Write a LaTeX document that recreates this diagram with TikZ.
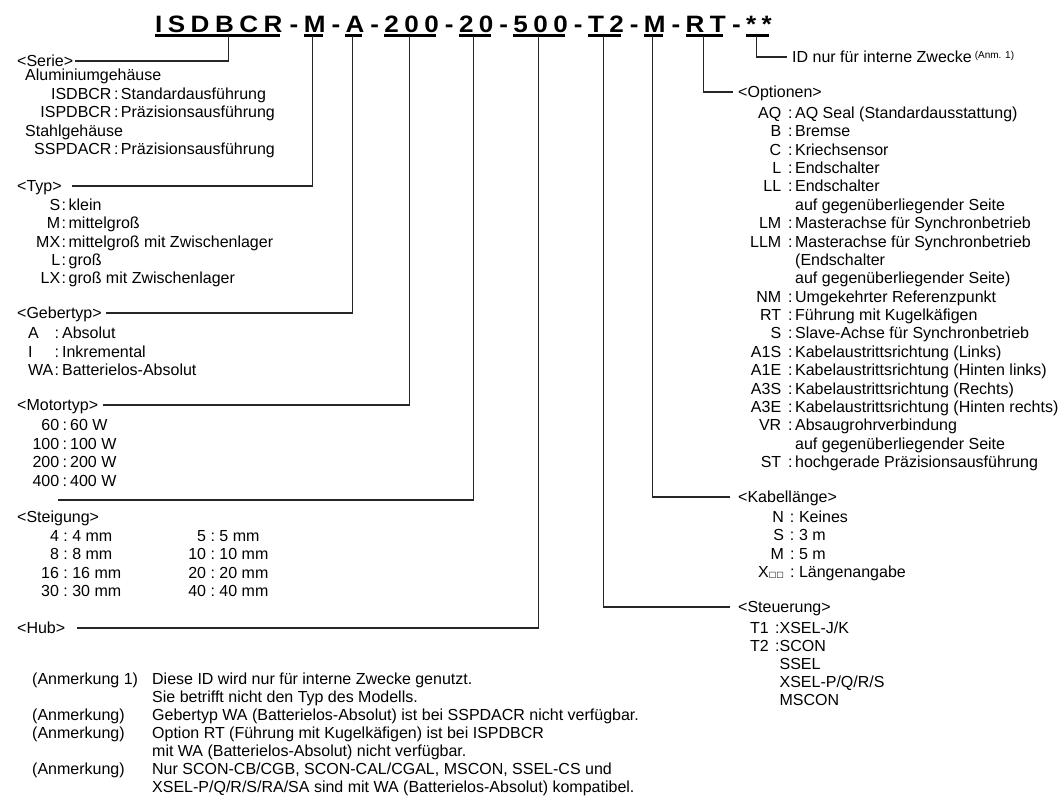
\documentclass[tikz,border=0pt]{standalone}
\usepackage{fontspec}
\usepackage{array}
\setmainfont{Liberation Sans}
\newfontfamily\titlefont[LetterSpace=23,FakeStretch=1.1]{Liberation Sans}
\newfontfamily\symfont{DejaVu Sans}
\newcommand\txtsize{\fontsize{16}{18.4}\selectfont}
\tikzset{
  ttl/.style={font=\titlefont\bfseries\fontsize{23.7}{28}\selectfont, inner sep=0pt, anchor=base west, text depth=0pt},
  uline/.style={line width=2.7pt},
  conn/.style={line width=1.1pt, black!85},
  lbl/.style={font=\txtsize, inner sep=0pt, anchor=west, text height=13pt, text depth=2pt},
  lst/.style={font=\fontsize{16}{#1}\selectfont, inner sep=0pt, anchor=base west},
  lst/.default=18.4
}
\begin{document}
\begin{tikzpicture}[x=1pt,y=-1pt]
  \useasboundingbox (0,0) rectangle (1059,795);
  % model code
  \node[ttl] (fSer) at (155,32) {ISDBCR};
  \node[ttl] (fTyp) at (303.6,32) {M};
  \node[ttl] (fGeb) at (345.4,32) {A};
  \node[ttl] (fMot) at (384.2,32) {200};
  \node[ttl] (fStg) at (458.8,32) {20};
  \node[ttl] (fHub) at (513.2,32) {500};
  \node[ttl] (fStr) at (587.8,32) {T2};
  \node[ttl] (fKab) at (643.7,32) {M};
  \node[ttl] (fOpt) at (685.5,32) {RT};
  \node[ttl] (fId) at (745.9,32) {**};
  \foreach \n/\x in {1/289.5,2/331.3,3/370.1,4/444.7,5/499.1,6/573.7,7/629.6,8/671.4,9/731.8}
    \node[ttl] (d\n) at (\x,32) {-};
  \foreach \f in {fSer,fTyp,fGeb,fMot,fStg,fHub,fStr,fKab,fOpt,fId}
    \draw[uline] ([yshift=-3pt]\f.south west) -- ([yshift=-3pt,xshift=-3pt]\f.south east);

  % left side
  \node[lbl] (serie) at (17,61) {<Serie>};
  \node[lst=18.5] (serieL) at (25,80.5) {\begin{tabular}[t]{@{}p{9pt}@{}r@{\hspace{2.5pt}:\hspace{2.5pt}}l@{}}
    \multicolumn{3}{@{}l@{}}{Aluminiumgehäuse}\\
    & ISDBCR & Standardausführung\\
    & ISPDBCR & Präzisionsausführung\\
    \multicolumn{3}{@{}l@{}}{Stahlgehäuse}\\
    & SSPDACR & Präzisionsausführung
  \end{tabular}};

  \node[lbl] (typ) at (17,186) {<Typ>};
  \node[lst=18.3] (typL) at (36,210.5) {\begin{tabular}[t]{@{}r@{\hspace{1.5pt}:\hspace{2.5pt}}l@{}}
    S & klein\\
    M & mittelgroß\\
    MX & mittelgroß mit Zwischenlager\\
    L & groß\\
    LX & groß mit Zwischenlager
  \end{tabular}};

  \node[lbl] (geber) at (17,313) {<Gebertyp>};
  \node[lst=18.5] (geberL) at (28,338.5) {\begin{tabular}[t]{@{}p{26.5pt}@{}l@{}}
    A & :\hspace{3pt}Absolut\\
    I & :\hspace{3pt}Inkremental\\
    WA & :\hspace{3pt}Batterielos-Absolut
  \end{tabular}};

  \node[lbl] (motor) at (17,405) {<Motortyp>};
  \node[lst=18.6] (motorL) at (32.3,430.5) {\begin{tabular}[t]{@{}r@{\hspace{3.5pt}:\hspace{3pt}}l@{}}
    60 & 60 W\\
    100 & 100 W\\
    200 & 200 W\\
    400 & 400 W
  \end{tabular}};

  \coordinate (steigEnd) at (58,500);
  \node[lbl] (steig) at (17,517) {<Steigung>};
  \node[lst=18.3] (steigL) at (41,541.5) {\begin{tabular}[t]{@{}r@{\ :\ }p{116pt}@{}r@{\ :\ }l@{}}
    4 & 4 mm & 5 & 5 mm\\
    8 & 8 mm & 10 & 10 mm\\
    16 & 16 mm & 20 & 20 mm\\
    30 & 30 mm & 40 & 40 mm
  \end{tabular}};

  \node[lbl] (hub) at (17,628) {<Hub>};

  \node[lst=18] (notes) at (32,684) {\begin{tabular}[t]{@{}p{120pt}@{}l@{}}
    (Anmerkung 1) & Diese ID wird nur für interne Zwecke genutzt.\\
    & Sie betrifft nicht den Typ des Modells.\\
    (Anmerkung) & Gebertyp WA (Batterielos-Absolut) ist bei SSPDACR nicht verfügbar.\\
    (Anmerkung) & Option RT (Führung mit Kugelkäfigen) ist bei ISPDBCR\\
    & mit WA (Batterielos-Absolut) nicht verfügbar.\\
    (Anmerkung) & Nur SCON-CB/CGB, SCON-CAL/CGAL, MSCON, SSEL-CS und\\
    & XSEL-P/Q/R/S/RA/SA sind mit WA (Batterielos-Absolut) kompatibel.
  \end{tabular}};

  % right side
  \node[lbl] (idtxt) at (792,57) {ID nur für interne Zwecke\hspace{3pt}\raisebox{4.5pt}{\fontsize{10}{10}\selectfont (Anm. 1)}};

  \node[lbl] (opt) at (738,92) {<Optionen>};
  \node[lst=18.37] (optL) at (749.9,118.5) {\begin{tabular}[t]{@{}r@{\hspace{7pt}}l@{\hspace{2.5pt}}l@{}}
    AQ & : & AQ Seal (Standardausstattung)\\
    B & : & Bremse\\
    C & : & Kriechsensor\\
    L & : & Endschalter\\
    LL & : & Endschalter\\
    & & auf gegenüberliegender Seite\\
    LM & : & Masterachse für Synchronbetrieb\\
    LLM & : & Masterachse für Synchronbetrieb\\
    & & (Endschalter\\
    & & auf gegenüberliegender Seite)\\
    NM & : & Umgekehrter Referenzpunkt\\
    RT & : & Führung mit Kugelkäfigen\\
    S & : & Slave-Achse für Synchronbetrieb\\
    A1S & : & Kabelaustrittsrichtung (Links)\\
    A1E & : & Kabelaustrittsrichtung (Hinten links)\\
    A3S & : & Kabelaustrittsrichtung (Rechts)\\
    A3E & : & Kabelaustrittsrichtung (Hinten rechts)\\
    VR & : & Absaugrohrverbindung\\
    & & auf gegenüberliegender Seite\\
    ST & : & hochgerade Präzisionsausführung
  \end{tabular}};

  \node[lbl] (kabel) at (738,497) {<Kabellänge>};
  \node[lst=18.3] (kabelL) at (758,522.5) {\begin{tabular}[t]{@{}r@{\hspace{6pt}:\hspace{4.6pt}}l@{}}
    N & Keines\\
    S & 3 m\\
    M & 5 m\\
    X{\symfont\fontsize{8}{8}\selectfont □□} & Längenangabe
  \end{tabular}};

  \node[lbl] (steu) at (738,607) {<Steuerung>};
  \node[lst=18.1] (steuL) at (750,633.5) {\begin{tabular}[t]{@{}l@{\hspace{6.3pt}}l@{}l@{}}
    T1 & : & XSEL-J/K\\
    T2 & : & SCON\\
    & & SSEL\\
    & & XSEL-P/Q/R/S\\
    & & MSCON
  \end{tabular}};

  % connectors
  \draw[conn] ([xshift=10pt,yshift=-4pt]fSer.south) |- ([xshift=2pt]serie.east);
  \draw[conn] ([xshift=-2.5pt,yshift=-4pt]fTyp.south) |- ([xshift=10.6pt]typ.east);
  \draw[conn] ([xshift=-2.5pt,yshift=-4pt]fGeb.south) |- ([xshift=4.5pt]geber.east);
  \draw[conn] ([xshift=-2.5pt,yshift=-4pt]fMot.south) |- ([xshift=5pt]motor.east);
  \draw[conn] ([xshift=-2.5pt,yshift=-4pt]fStg.south) |- (steigEnd);
  \draw[conn] ([xshift=-2.5pt,yshift=-4pt]fHub.south) |- ([xshift=12pt]hub.east);
  \draw[conn] ([xshift=-2.5pt,yshift=-4pt]fStr.south) |- ([xshift=-8pt]steu.west);
  \draw[conn] ([xshift=-2.5pt,yshift=-4pt]fKab.south) |- ([xshift=-8pt]kabel.west);
  \draw[conn] ([xshift=-2.5pt,yshift=-4pt]fOpt.south) |- ([xshift=-5pt]opt.west);
  \draw[conn] ([xshift=-2.5pt,yshift=-4pt]fId.south) |- ([xshift=-5pt]idtxt.west);
\end{tikzpicture}
\end{document}
